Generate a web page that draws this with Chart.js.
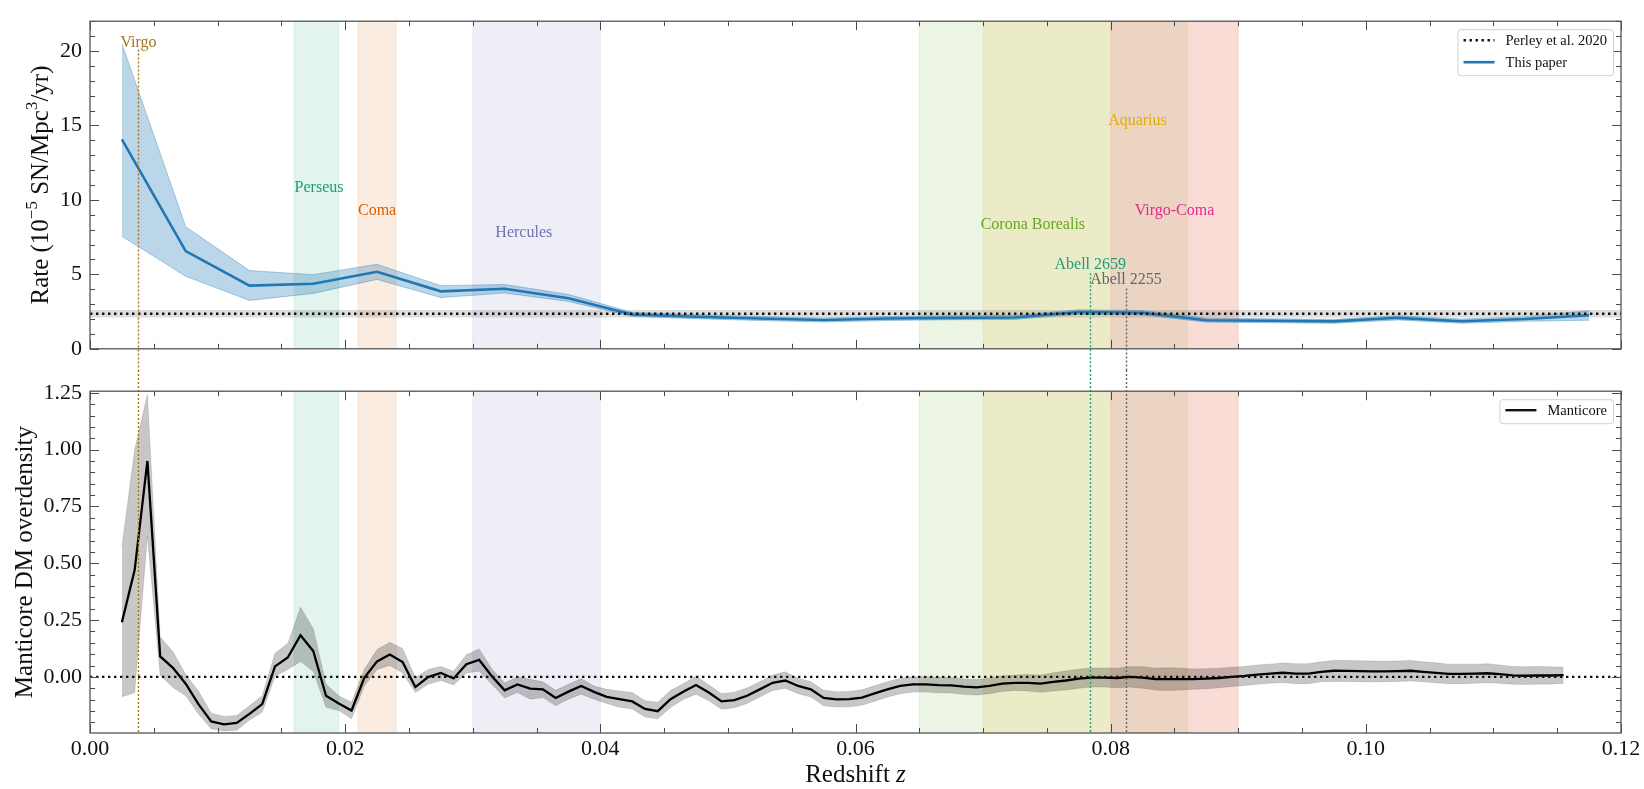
<!DOCTYPE html>
<html>
<head>
<meta charset="utf-8">
<script src="https://cdn.jsdelivr.net/npm/chart.js@4.4.1/dist/chart.umd.min.js"></script>
<style>
  html, body { margin: 0; padding: 0; background: #fff; }
  #wrap { position: relative; width: 1644px; height: 789px; }
  #rateCanvas { position: absolute; left: 0; top: 0; }
  #densCanvas { position: absolute; left: 0; top: 370px; }
</style>
</head>
<body>
<div id="wrap">
  <canvas id="rateCanvas" width="1644" height="370"></canvas>
  <canvas id="densCanvas" width="1644" height="419"></canvas>
</div>
<script>
// SN rate per redshift bin (10^-5 SN / Mpc^3 / yr)
const rateZ = [0.0025, 0.0075, 0.0125, 0.0175, 0.0225, 0.0275, 0.0325, 0.0375, 0.0425, 0.0475, 0.0525, 0.0575,
               0.0625, 0.0675, 0.0725, 0.0775, 0.0825, 0.0875, 0.0925, 0.0975, 0.1025, 0.1075, 0.1125, 0.1175];
const rateVal = [14.07, 6.56, 4.24, 4.37, 5.17, 3.86, 4.03, 3.40, 2.30, 2.15, 2.03, 1.93,
                 2.03, 2.08, 2.10, 2.47, 2.42, 1.92, 1.88, 1.84, 2.08, 1.85, 2.00, 2.25];
const rateLo = [7.55, 4.87, 3.25, 3.72, 4.66, 3.44, 3.75, 3.18, 2.17, 2.02, 1.90, 1.80,
                1.90, 1.95, 1.97, 2.32, 2.27, 1.79, 1.75, 1.71, 1.94, 1.71, 1.85, 1.92];
const rateHi = [20.49, 8.20, 5.25, 4.98, 5.68, 4.24, 4.32, 3.65, 2.45, 2.29, 2.17, 2.07,
                2.17, 2.22, 2.24, 2.62, 2.57, 2.06, 2.02, 1.98, 2.22, 2.00, 2.16, 2.56];

// Perley et al. 2020 reference rate
const perleyRate = 2.35;
const perleyLo = 2.10;
const perleyHi = 2.60;

// Manticore dark-matter overdensity
const mantZ = [0.0025, 0.0035, 0.0045, 0.0055, 0.0065, 0.0075, 0.0085, 0.0095, 0.0105, 0.0115,
               0.0125, 0.0135, 0.0145, 0.0155, 0.0165, 0.0175, 0.0185, 0.0195, 0.0205, 0.0215,
               0.0225, 0.0235, 0.0245, 0.0255, 0.0265, 0.0275, 0.0285, 0.0295, 0.0305, 0.0315,
               0.0325, 0.0335, 0.0345, 0.0355, 0.0365, 0.0375, 0.0385, 0.0395, 0.0405, 0.0415,
               0.0425, 0.0435, 0.0445, 0.0455, 0.0465, 0.0475, 0.0485, 0.0495, 0.0505, 0.0515,
               0.0525, 0.0535, 0.0545, 0.0555, 0.0565, 0.0575, 0.0585, 0.0595, 0.0605, 0.0615,
               0.0625, 0.0635, 0.0645, 0.0655, 0.0665, 0.0675, 0.0685, 0.0695, 0.0705, 0.0715,
               0.0725, 0.0735, 0.0745, 0.0755, 0.0765, 0.0775, 0.0785, 0.0795, 0.0805, 0.0815,
               0.0825, 0.0835, 0.0845, 0.0855, 0.0865, 0.0875, 0.0885, 0.0895, 0.0905, 0.0915,
               0.0925, 0.0935, 0.0945, 0.0955, 0.0965, 0.0975, 0.0985, 0.0995, 0.1005, 0.1015,
               0.1025, 0.1035, 0.1045, 0.1055, 0.1065, 0.1075, 0.1085, 0.1095, 0.1105, 0.1115,
               0.1125, 0.1135, 0.1145, 0.1155];
const mantVal = [0.24, 0.47, 0.95, 0.09, 0.04, -0.03, -0.12, -0.196, -0.209, -0.203,
                 -0.163, -0.12, 0.046, 0.085, 0.183, 0.114, -0.083, -0.117, -0.148, -0.004,
                 0.068, 0.098, 0.065, -0.045, -0.001, 0.017, -0.007, 0.056, 0.075, 0.003,
                 -0.059, -0.033, -0.052, -0.055, -0.093, -0.065, -0.04, -0.066, -0.088, -0.098,
                 -0.108, -0.141, -0.151, -0.098, -0.065, -0.036, -0.069, -0.108, -0.102, -0.083,
                 -0.055, -0.026, -0.016, -0.04, -0.055, -0.093, -0.099, -0.098, -0.091, -0.073,
                 -0.055, -0.04, -0.033, -0.033, -0.036, -0.037, -0.043, -0.046, -0.04, -0.03,
                 -0.026, -0.026, -0.03, -0.022, -0.016, -0.008, -0.003, -0.003, -0.005, 0.0,
                 -0.003, -0.01, -0.01, -0.01, -0.01, -0.008, -0.005, 0.0, 0.004, 0.01,
                 0.014, 0.018, 0.014, 0.014, 0.022, 0.027, 0.026, 0.025, 0.024, 0.024,
                 0.025, 0.027, 0.022, 0.018, 0.013, 0.013, 0.014, 0.016, 0.012, 0.007,
                 0.005, 0.007, 0.006, 0.008];
const mantLo = [-0.088, -0.07, 0.62, 0.007, -0.047, -0.083, -0.163, -0.228, -0.238, -0.235,
                -0.19, -0.156, 0.003, 0.032, 0.068, 0.025, -0.134, -0.148, -0.184, -0.04,
                0.032, 0.05, 0.017, -0.069, -0.033, -0.016, -0.036, 0.017, 0.025, -0.032,
                -0.093, -0.069, -0.098, -0.091, -0.127, -0.098, -0.076, -0.098, -0.117, -0.134,
                -0.141, -0.177, -0.184, -0.135, -0.1, -0.076, -0.105, -0.142, -0.136, -0.117,
                -0.089, -0.06, -0.05, -0.074, -0.089, -0.127, -0.133, -0.132, -0.125, -0.107,
                -0.089, -0.074, -0.067, -0.067, -0.07, -0.071, -0.077, -0.08, -0.074, -0.064,
                -0.06, -0.062, -0.068, -0.062, -0.058, -0.05, -0.045, -0.045, -0.048, -0.045,
                -0.05, -0.058, -0.06, -0.058, -0.055, -0.052, -0.048, -0.042, -0.038, -0.032,
                -0.028, -0.025, -0.03, -0.03, -0.022, -0.02, -0.02, -0.021, -0.022, -0.021,
                -0.02, -0.018, -0.022, -0.026, -0.03, -0.03, -0.028, -0.026, -0.028, -0.032,
                -0.034, -0.032, -0.032, -0.028];
const mantHi = [0.573, 1.0, 1.243, 0.176, 0.111, 0.01, -0.062, -0.16, -0.174, -0.17,
                -0.127, -0.083, 0.104, 0.147, 0.306, 0.212, -0.033, -0.083, -0.112, 0.033,
                0.12, 0.152, 0.125, -0.004, 0.032, 0.046, 0.025, 0.097, 0.123, 0.035,
                -0.026, -0.001, -0.011, -0.022, -0.059, -0.033, -0.007, -0.04, -0.055, -0.062,
                -0.069, -0.105, -0.112, -0.06, -0.03, 0.003, -0.035, -0.074, -0.068, -0.049,
                -0.021, 0.008, 0.022, -0.006, -0.021, -0.059, -0.065, -0.064, -0.057, -0.039,
                -0.021, -0.006, 0.001, 0.001, -0.002, -0.003, -0.009, -0.012, -0.006, 0.004,
                0.008, 0.01, 0.008, 0.018, 0.026, 0.034, 0.039, 0.039, 0.038, 0.045,
                0.044, 0.038, 0.04, 0.038, 0.035, 0.036, 0.038, 0.042, 0.046, 0.052,
                0.056, 0.061, 0.058, 0.058, 0.066, 0.072, 0.072, 0.071, 0.07, 0.069,
                0.07, 0.072, 0.066, 0.062, 0.056, 0.056, 0.056, 0.058, 0.052, 0.046,
                0.044, 0.046, 0.044, 0.042];
const densRef = 0;

// Cluster redshift ranges
const clusterNames = ['Perseus', 'Coma', 'Hercules', 'Corona Borealis', 'Aquarius', 'Virgo-Coma'];
const clusterZmin = [0.016, 0.021, 0.030, 0.065, 0.070, 0.080];
const clusterZmax = [0.0195, 0.024, 0.040, 0.086, 0.090, 0.090];
const clusterColors = ['#1b9e77', '#d95f02', '#7570b3', '#66a61e', '#e6ab02', '#e7298a'];
const clusterLabelZ = [0.01795, 0.0225, 0.034, 0.0739, 0.0821, 0.085];
const clusterLabelY = [10.8, 9.3, 7.8, 8.3, 15.3, 9.3];

// Single clusters marked by a vertical line
const markerNames = ['Virgo', 'Abell 2659', 'Abell 2255'];
const markerZ = [0.0038, 0.0784, 0.0812];
const markerTop = [20.1, 5.08, 4.05];
const markerLabelY = [20.57, 5.65, 4.62];
const markerColors = ['#a6761d', '#1b9e77', '#666666'];

// Axis ticks
const zTicks = [0, 0.02, 0.04, 0.06, 0.08, 0.10, 0.12];
const rateTicks = [0, 5, 10, 15, 20];
const densTicks = [0, 0.25, 0.5, 0.75, 1.0, 1.25];

const SERIF = "'Liberation Serif', 'DejaVu Serif', serif";
const BLUE = '#1f77b4';

function rgba(hex, a) {
  const n = parseInt(hex.slice(1), 16);
  return `rgba(${n >> 16},${(n >> 8) & 255},${n & 255},${a})`;
}

const pts = (xs, ys) => xs.map((x, i) => ({ x, y: ys[i] }));
const flat = (v) => [{ x: 0, y: v }, { x: 0.12, y: v }];

// inward ticks on all four sides plus the box frame
function drawTicks(chart, majorsX, stepX, majorsY, stepY) {
  const { ctx, chartArea: a, scales: { x, y } } = chart;
  ctx.save();
  ctx.strokeStyle = '#4a4a4a';
  ctx.lineWidth = 1;
  const run = (scale, majors, step, fn) => {
    const k0 = Math.ceil(scale.min / step - 1e-6), k1 = Math.floor(scale.max / step + 1e-6);
    for (let k = k0; k <= k1; k++) {
      const v = k * step;
      const major = majors.some(m => Math.abs(m - v) < step * 1e-3);
      fn(Math.round(scale.getPixelForValue(v)) + 0.5, major ? 9 : 5);
    }
  };
  ctx.beginPath();
  run(x, majorsX, stepX, (px, len) => {
    ctx.moveTo(px, a.top); ctx.lineTo(px, a.top + len);
    ctx.moveTo(px, a.bottom); ctx.lineTo(px, a.bottom - len);
  });
  run(y, majorsY, stepY, (py, len) => {
    ctx.moveTo(a.left, py); ctx.lineTo(a.left + len, py);
    ctx.moveTo(a.right, py); ctx.lineTo(a.right - len, py);
  });
  ctx.stroke();
  ctx.strokeStyle = '#555';
  ctx.lineWidth = 1.3;
  ctx.strokeRect(a.left, a.top, a.right - a.left, a.bottom - a.top);
  ctx.restore();
}

function drawLegend(chart, items) {
  const { ctx, chartArea: a } = chart;
  ctx.save();
  ctx.font = `14.5px ${SERIF}`;
  const textW = Math.max(...items.map(it => ctx.measureText(it.label).width));
  const w = 6 + 31 + 11 + textW + 6;
  const h = items.length * 22 + 2;
  const bx = a.right - 8 - w, by = a.top + 8;
  ctx.fillStyle = 'rgba(255,255,255,0.85)';
  ctx.strokeStyle = '#d0d0d0';
  ctx.lineWidth = 1;
  ctx.beginPath();
  ctx.roundRect(bx + 0.5, by + 0.5, w, h, 3);
  ctx.fill();
  ctx.stroke();
  items.forEach((it, i) => {
    const cy = by + 11 + 22 * i;
    ctx.strokeStyle = it.color;
    ctx.lineWidth = it.width;
    ctx.setLineDash(it.dash || []);
    ctx.beginPath();
    ctx.moveTo(bx + 6, cy); ctx.lineTo(bx + 37, cy);
    ctx.stroke();
    ctx.setLineDash([]);
    ctx.fillStyle = '#111';
    ctx.textBaseline = 'middle';
    ctx.textAlign = 'left';
    ctx.fillText(it.label, bx + 48, cy + 1);
  });
  ctx.restore();
}

// draws runs of [text, font, dy] one after another starting at x
function drawRuns(ctx, runs, cx, cy) {
  let total = 0;
  runs.forEach(r => { ctx.font = r.font; total += ctx.measureText(r.t).width; });
  let x = cx - total / 2;
  ctx.textAlign = 'left';
  runs.forEach(r => {
    ctx.font = r.font;
    ctx.fillText(r.t, x, cy + (r.dy || 0));
    x += ctx.measureText(r.t).width;
  });
}

const clusterBands = {
  id: 'clusterBands',
  beforeDatasetsDraw(chart) {
    const { ctx, chartArea: a, scales: { x } } = chart;
    ctx.save();
    clusterNames.forEach((name, i) => {
      const x0 = x.getPixelForValue(clusterZmin[i]);
      const x1 = x.getPixelForValue(clusterZmax[i]);
      ctx.fillStyle = rgba(clusterColors[i], 0.12);
      ctx.fillRect(x0, a.top, x1 - x0, a.bottom - a.top);
      ctx.strokeStyle = rgba(clusterColors[i], 0.10);
      ctx.lineWidth = 1;
      ctx.beginPath();
      ctx.moveTo(x0, a.top); ctx.lineTo(x0, a.bottom);
      ctx.moveTo(x1, a.top); ctx.lineTo(x1, a.bottom);
      ctx.stroke();
    });
    ctx.restore();
  }
};

function markerLines(panel) {
  return {
    id: 'markerLines',
    afterDatasetsDraw(chart) {
      const { ctx, chartArea: a, scales: { x, y } } = chart;
      ctx.save();
      ctx.lineWidth = 1.4;
      ctx.setLineDash([2, 2]);
      markerNames.forEach((name, i) => {
        const px = Math.round(x.getPixelForValue(markerZ[i])) + 0.5;
        const top = panel === 'rate' ? y.getPixelForValue(markerTop[i]) : 0;
        const bottom = panel === 'rate' ? chart.height : a.bottom;
        ctx.strokeStyle = markerColors[i];
        ctx.beginPath();
        ctx.moveTo(px, top); ctx.lineTo(px, bottom);
        ctx.stroke();
      });
      ctx.restore();
    }
  };
}

const rateDecor = {
  id: 'rateDecor',
  afterDraw(chart) {
    const { ctx, chartArea: a, scales: { x, y } } = chart;
    drawTicks(chart, zTicks, 0.005, rateTicks, 1);

    ctx.save();
    ctx.font = `16px ${SERIF}`;
    ctx.textAlign = 'center';
    ctx.textBaseline = 'middle';
    clusterNames.forEach((name, i) => {
      ctx.fillStyle = clusterColors[i];
      ctx.fillText(name, x.getPixelForValue(clusterLabelZ[i]), y.getPixelForValue(clusterLabelY[i]));
    });
    markerNames.forEach((name, i) => {
      ctx.fillStyle = markerColors[i];
      ctx.fillText(name, x.getPixelForValue(markerZ[i]), y.getPixelForValue(markerLabelY[i]));
    });

    // y axis title with superscripts
    ctx.translate(41.5, (a.top + a.bottom) / 2);
    ctx.rotate(-Math.PI / 2);
    ctx.fillStyle = '#111';
    ctx.textBaseline = 'middle';
    const big = `25px ${SERIF}`, sup = `17px ${SERIF}`;
    drawRuns(ctx, [
      { t: 'Rate (10', font: big },
      { t: '\u22125', font: sup, dy: -9 },
      { t: ' SN/Mpc', font: big },
      { t: '3', font: sup, dy: -9 },
      { t: '/yr)', font: big }
    ], 0, 0);
    ctx.restore();

    drawLegend(chart, [
      { label: 'Perley et al. 2020', color: '#111', width: 2.4, dash: [2.4, 3.6] },
      { label: 'This paper', color: BLUE, width: 2.6 }
    ]);
  }
};

const densDecor = {
  id: 'densDecor',
  afterDraw(chart) {
    const { ctx, chartArea: a } = chart;
    drawTicks(chart, zTicks, 0.005, densTicks, 0.05);

    ctx.save();
    ctx.fillStyle = '#111';
    ctx.textBaseline = 'middle';
    drawRuns(ctx, [
      { t: 'Redshift ', font: `25px ${SERIF}` },
      { t: 'z', font: `italic 25px ${SERIF}` }
    ], (a.left + a.right) / 2, 405);

    ctx.translate(25, (a.top + a.bottom) / 2);
    ctx.rotate(-Math.PI / 2);
    drawRuns(ctx, [{ t: 'Manticore DM overdensity', font: `25px ${SERIF}` }], 0, 0);
    ctx.restore();

    drawLegend(chart, [{ label: 'Manticore', color: '#111', width: 2.4 }]);
  }
};

Chart.defaults.font.family = SERIF;
Chart.defaults.color = '#111';

const baseOptions = {
  responsive: false,
  animation: false,
  events: [],
  elements: { point: { radius: 0 }, line: { tension: 0 } },
  plugins: { legend: { display: false }, tooltip: { enabled: false } }
};

new Chart(document.getElementById('rateCanvas'), {
  type: 'line',
  data: {
    datasets: [
      { data: flat(perleyHi), fill: '+1', backgroundColor: 'rgba(128,128,128,0.28)', borderWidth: 0, order: 5 },
      { data: flat(perleyLo), fill: false, borderWidth: 0, order: 5 },
      { data: pts(rateZ, rateHi), fill: '+1', backgroundColor: rgba(BLUE, 0.3), borderColor: rgba(BLUE, 0.35), borderWidth: 1, order: 3 },
      { data: pts(rateZ, rateLo), fill: false, borderColor: rgba(BLUE, 0.35), borderWidth: 1, order: 3 },
      { label: 'This paper', data: pts(rateZ, rateVal), borderColor: BLUE, borderWidth: 2.6, fill: false, order: 1 },
      { label: 'Perley et al. 2020', data: flat(perleyRate), borderColor: '#111', borderWidth: 2.4, borderDash: [2.4, 3.6], fill: false, order: 0 }
    ]
  },
  options: {
    ...baseOptions,
    layout: { padding: { left: 0, right: 23, top: 9, bottom: 0 } },
    scales: {
      x: {
        type: 'linear', min: 0, max: 0.12,
        grid: { display: false, drawTicks: false }, border: { display: false },
        ticks: { display: false },
        afterFit: s => { s.height = 13; }
      },
      y: {
        min: 0, max: 22,
        grid: { display: false, drawTicks: false }, border: { display: false },
        afterBuildTicks: s => { s.ticks = rateTicks.map(v => ({ value: v })); },
        ticks: { font: { size: 22 }, color: '#111', padding: 8, callback: v => String(v) },
        afterFit: s => { s.width = 90; }
      }
    }
  },
  plugins: [clusterBands, markerLines('rate'), rateDecor]
});

new Chart(document.getElementById('densCanvas'), {
  type: 'line',
  data: {
    datasets: [
      { data: pts(mantZ, mantHi), fill: '+1', backgroundColor: 'rgba(0,0,0,0.22)', borderColor: 'rgba(0,0,0,0.12)', borderWidth: 1, order: 3 },
      { data: pts(mantZ, mantLo), fill: false, borderColor: 'rgba(0,0,0,0.12)', borderWidth: 1, order: 3 },
      { label: 'Manticore', data: pts(mantZ, mantVal), borderColor: '#000', borderWidth: 2.3, fill: false, order: 1 },
      { data: flat(densRef), borderColor: '#111', borderWidth: 2.4, borderDash: [2.4, 3.6], fill: false, order: 0 }
    ]
  },
  options: {
    ...baseOptions,
    layout: { padding: { left: 0, right: 23, top: 15, bottom: 0 } },
    scales: {
      x: {
        type: 'linear', min: 0, max: 0.12,
        grid: { display: false, drawTicks: false }, border: { display: false },
        afterBuildTicks: s => { s.ticks = zTicks.map(v => ({ value: v })); },
        ticks: { font: { size: 22 }, color: '#111', padding: 3, maxRotation: 0, callback: v => v.toFixed(2) },
        afterFit: s => { s.height = 56; }
      },
      y: {
        min: -0.247, max: 1.257,
        grid: { display: false, drawTicks: false }, border: { display: false },
        afterBuildTicks: s => { s.ticks = densTicks.map(v => ({ value: v })); },
        ticks: { font: { size: 22 }, color: '#111', padding: 8, callback: v => v.toFixed(2) },
        afterFit: s => { s.width = 90; }
      }
    }
  },
  plugins: [clusterBands, markerLines('dens'), densDecor]
});
</script>
</body>
</html>
